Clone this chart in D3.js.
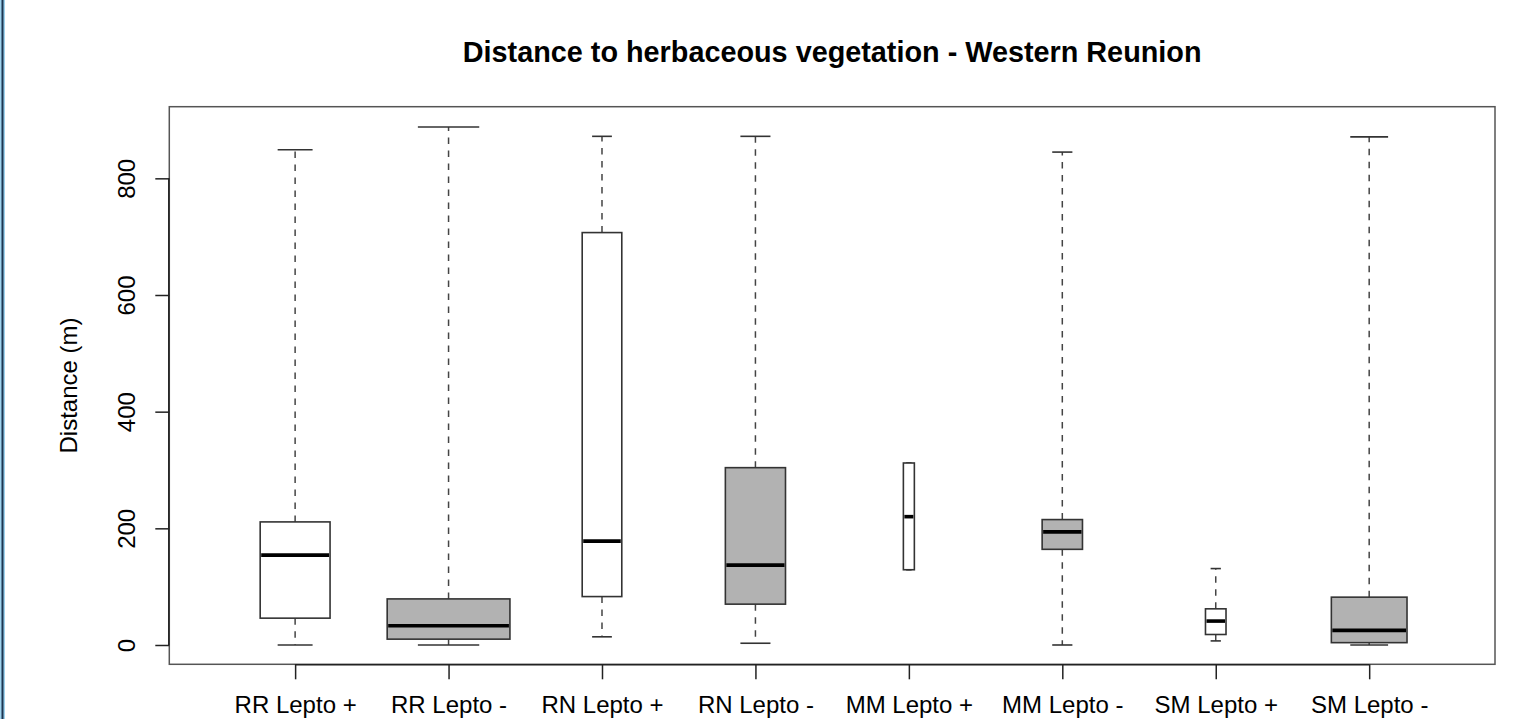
<!doctype html>
<html>
<head>
<style>
    body { margin: 0; background: #fff; }
    text { font-family: Arial, "Liberation Sans", Helvetica, sans-serif; fill: #000; }
</style>
</head>
<body>
    <div class="container"></div>

    <script src="https://d3js.org/d3.v7.min.js"></script>

    <script>
        // groups
        const categories = ['RR Lepto +', 'RR Lepto -', 'RN Lepto +', 'RN Lepto -', 'MM Lepto +', 'MM Lepto -', 'SM Lepto +', 'SM Lepto -'];
        const infected   = [true, false, true, false, true, false, true, false];
        const whiskerLow = [0, 0, 14, 3, 129, 0, 7, 0];
        const q1         = [46, 10, 83, 70, 129, 164, 18, 4];
        const median     = [154, 33, 178, 137, 220, 194, 41, 25];
        const q3         = [211, 79, 707, 304, 312, 215, 62, 82];
        const whiskerHigh= [849, 888, 872, 872, 312, 845, 131, 871];
        // sample sizes (box width is sqrt(n), estimated from widths)
        const counts     = [81, 250, 26, 60, 2, 27, 7, 95];
        const yTicks     = [0, 200, 400, 600, 800];

        const W = 1539, H = 719;
        const svg = d3.select('.container').append('svg').attr('width', W).attr('height', H);

        // left frame border of the screenshot
        svg.append('rect').attr('x', 0).attr('y', 0).attr('width', 5).attr('height', H).attr('fill', '#9fd3ee');
        svg.append('line').attr('x1', 2.5).attr('x2', 2.5).attr('y1', 0).attr('y2', H)
            .attr('stroke', '#1d3550').attr('stroke-width', 2);

        const pL = 169.3, pR = 1495, pT = 106.7, pB = 664.3;
        const x = d3.scaleLinear().domain([0.18, 8.82]).range([pL, pR]);
        const y = d3.scaleLinear().domain([-33.1, 922.8]).range([pB, pT]);

        const data = categories.map((c, i) => ({
            name: c, pos: i + 1, fill: infected[i] ? '#ffffff' : '#b2b2b2',
            lo: whiskerLow[i], q1: q1[i], med: median[i], q3: q3[i], hi: whiskerHigh[i], n: counts[i]
        }));
        const maxN = d3.max(counts);
        const unit = x(2) - x(1);
        const boxW = d => 0.8 * unit * Math.sqrt(d.n / maxN);

        // title
        svg.append('text').attr('x', (pL + pR) / 2).attr('y', 62)
            .attr('text-anchor', 'middle').style('font-size', '28.8px').style('font-weight', 'bold')
            .text('Distance to herbaceous vegetation - Western Reunion');

        // boxes
        const g = svg.append('g');
        const boxes = g.selectAll('g.box').data(data).enter().append('g').attr('class', 'box');

        boxes.append('line')
            .attr('x1', d => x(d.pos)).attr('x2', d => x(d.pos))
            .attr('y1', d => y(d.q3)).attr('y2', d => y(d.hi))
            .attr('stroke', '#444').attr('stroke-width', 1.5).attr('stroke-dasharray', '6.5,6.5');
        boxes.append('line')
            .attr('x1', d => x(d.pos)).attr('x2', d => x(d.pos))
            .attr('y1', d => y(d.q1)).attr('y2', d => y(d.lo))
            .attr('stroke', '#444').attr('stroke-width', 1.5).attr('stroke-dasharray', '6.5,6.5');
        // staples
        boxes.selectAll('line.cap').data(d => [[d, d.hi], [d, d.lo]]).enter().append('line')
            .attr('class', 'cap')
            .attr('x1', ([d]) => x(d.pos) - boxW(d) / 4).attr('x2', ([d]) => x(d.pos) + boxW(d) / 4)
            .attr('y1', ([, v]) => y(v)).attr('y2', ([, v]) => y(v))
            .attr('stroke', '#333').attr('stroke-width', 1.6);

        boxes.append('rect')
            .attr('x', d => x(d.pos) - boxW(d) / 2).attr('width', boxW)
            .attr('y', d => y(d.q3)).attr('height', d => y(d.q1) - y(d.q3))
            .attr('fill', d => d.fill).attr('stroke', '#333').attr('stroke-width', 1.6);
        boxes.append('line')
            .attr('x1', d => x(d.pos) - boxW(d) / 2 + 1).attr('x2', d => x(d.pos) + boxW(d) / 2 - 1)
            .attr('y1', d => y(d.med)).attr('y2', d => y(d.med))
            .attr('stroke', '#000').attr('stroke-width', 3.6);

        // frame
        svg.append('rect').attr('x', pL).attr('y', pT).attr('width', pR - pL).attr('height', pB - pT)
            .attr('fill', 'none').attr('stroke', '#555').attr('stroke-width', 1.5);

        // y axis
        const yAxis = svg.append('g').attr('transform', `translate(${pL},0)`)
            .call(d3.axisLeft(y).tickValues(yTicks).tickSize(14).tickSizeOuter(0).tickPadding(0));
        yAxis.select('.domain').attr('d', `M-0.5,${y(0)}V${y(800)}`).attr('stroke', '#222').attr('stroke-width', 1.5);
        yAxis.selectAll('.tick line').attr('stroke', '#222').attr('stroke-width', 1.5);
        yAxis.selectAll('.tick text')
            .attr('x', 0).attr('dy', null).attr('y', 0)
            .attr('transform', `translate(-34,0) rotate(-90)`)
            .attr('text-anchor', 'middle').style('font-size', '24px');

        svg.append('text').attr('transform', `translate(76.5,${(pT + pB) / 2}) rotate(-90)`)
            .attr('text-anchor', 'middle').style('font-size', '24px').text('Distance (m)');

        // x axis
        const xAxis = svg.append('g').attr('transform', `translate(0,${pB})`)
            .call(d3.axisBottom(x).tickValues(data.map(d => d.pos))
                .tickFormat((d, i) => categories[i]).tickSize(15).tickSizeOuter(0).tickPadding(0));
        xAxis.select('.domain').attr('d', `M${x(1)},0.5H${x(8)}`).attr('stroke', '#222').attr('stroke-width', 1.5);
        xAxis.selectAll('.tick line').attr('stroke', '#222').attr('stroke-width', 1.5);
        xAxis.selectAll('.tick text').attr('y', 48.5).attr('dy', null).style('font-size', '24px');
    </script>
</body>
</html>
